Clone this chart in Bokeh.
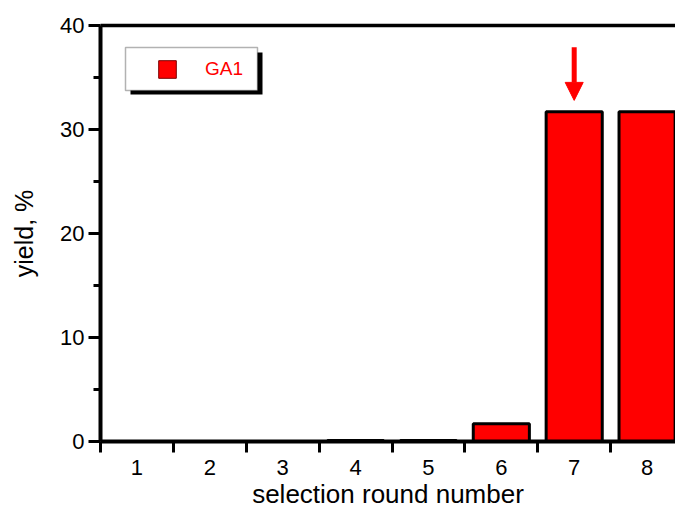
from bokeh.plotting import figure
from bokeh.models import (Range1d, FixedTicker, LinearAxis, Legend, LegendItem,
                          BoxAnnotation, Arrow, NormalHead, ColumnDataSource)
from bokeh.embed import file_html
from bokeh.resources import INLINE

# ---- data ----
rounds = [1, 2, 3, 4, 5, 6, 7, 8]
yield_pct = [0.0, 0.0, 0.0, 0.1, 0.1, 1.7, 31.7, 31.7]
series_name = "GA1"
x_tick_labels = {r: str(r) for r in rounds}
y_ticks = [0, 10, 20, 30, 40]
y_minor = [5, 15, 25, 35]
x_boundaries = [r - 0.5 for r in rounds] + [rounds[-1] + 0.5]
arrow_round = 7
arrow_from, arrow_to = 37.9, 32.8

FONT = "Liberation Sans"
X0, X1 = 0.5, 8.39
Y0, Y1 = 0, 40

src = ColumnDataSource(dict(x=rounds, top=yield_pct))

p = figure(width=675, height=512, output_backend="svg", toolbar_location=None,
           x_range=Range1d(X0, X1), y_range=Range1d(Y0, Y1),
           min_border_left=100, min_border_right=0, min_border_top=25, min_border_bottom=71,
           background_fill_color="white", border_fill_color="white")
p.outline_line_color = None
p.grid.visible = False
p.xaxis.visible = False
p.yaxis.visible = False

# helper renderer for legend swatch (hidden beneath the real bars)
legend_r = p.vbar(x="x", top="top", width=0.77, bottom=0, source=src,
                  fill_color="#ff0000", line_color="#7a0000", line_width=1)
bars = p.vbar(x="x", top="top", width=0.77, bottom=0, source=src,
              fill_color="#ff0000", line_color="black", line_width=3)

# axes
xa = LinearAxis(ticker=FixedTicker(ticks=rounds, minor_ticks=x_boundaries),
                major_label_overrides=x_tick_labels,
                axis_label="selection round number")
xa.axis_line_width = 4
xa.major_tick_line_color = None
xa.major_tick_out = 0
xa.major_tick_in = 0
xa.minor_tick_out = 11
xa.minor_tick_in = 0
xa.minor_tick_line_width = 3
xa.major_label_standoff = 7
xa.major_label_text_font = FONT
xa.major_label_text_font_size = "22px"
xa.major_label_text_color = "black"
xa.axis_label_text_font = FONT
xa.axis_label_text_font_size = "26px"
xa.axis_label_text_font_style = "normal"
xa.axis_label_text_color = "black"
xa.axis_label_standoff = 1
p.add_layout(xa, "below")

ya = LinearAxis(ticker=FixedTicker(ticks=y_ticks, minor_ticks=y_minor),
                axis_label="yield, %")
ya.axis_line_width = 4
ya.major_tick_out = 12
ya.major_tick_in = 0
ya.major_tick_line_width = 3
ya.minor_tick_out = 7
ya.minor_tick_in = 0
ya.minor_tick_line_width = 3
ya.major_label_standoff = 4
ya.major_label_text_font = FONT
ya.major_label_text_font_size = "22px"
ya.major_label_text_color = "black"
ya.axis_label_text_font = FONT
ya.axis_label_text_font_size = "25px"
ya.axis_label_text_font_style = "normal"
ya.axis_label_text_color = "black"
ya.axis_label_standoff = 19
p.add_layout(ya, "left")

top_axis = LinearAxis(ticker=FixedTicker(ticks=[]), major_label_text_font_size="0px")
top_axis.axis_line_width = 3.5
top_axis.major_tick_line_color = None
top_axis.minor_tick_line_color = None
p.add_layout(top_axis, "above")

# legend frame with drop shadow (pixel offsets from the plot frame -> data units)
px_x = (X1 - X0) / 575.0
px_y = (Y1 - Y0) / 416.0
def fx(px):
    return X0 + px * px_x
def fy(px):
    return Y1 - px * px_y

shadow = BoxAnnotation(left=fx(30), right=fx(162), top=fy(27), bottom=fy(69),
                       fill_color="black", fill_alpha=1, line_color=None)
box = BoxAnnotation(left=fx(25), right=fx(157), top=fy(22), bottom=fy(65),
                    fill_color="white", fill_alpha=1, line_color="black", line_width=1.5)
p.add_layout(shadow)
p.add_layout(box)

legend = Legend(items=[LegendItem(label=series_name, renderers=[legend_r])],
                location=(56, 361), padding=5, glyph_width=22, glyph_height=22,
                label_standoff=27, border_line_color=None, background_fill_alpha=0,
                label_text_font=FONT, label_text_font_size="19px",
                label_text_color="#ff0000")
p.add_layout(legend, "center")

arrow = Arrow(end=NormalHead(size=18, fill_color="#ff0000", line_color="#ff0000"),
              x_start=arrow_round, y_start=arrow_from, x_end=arrow_round, y_end=arrow_to,
              line_color="#ff0000", line_width=5)
p.add_layout(arrow)

open("out.html", "w").write(file_html(p, INLINE))
